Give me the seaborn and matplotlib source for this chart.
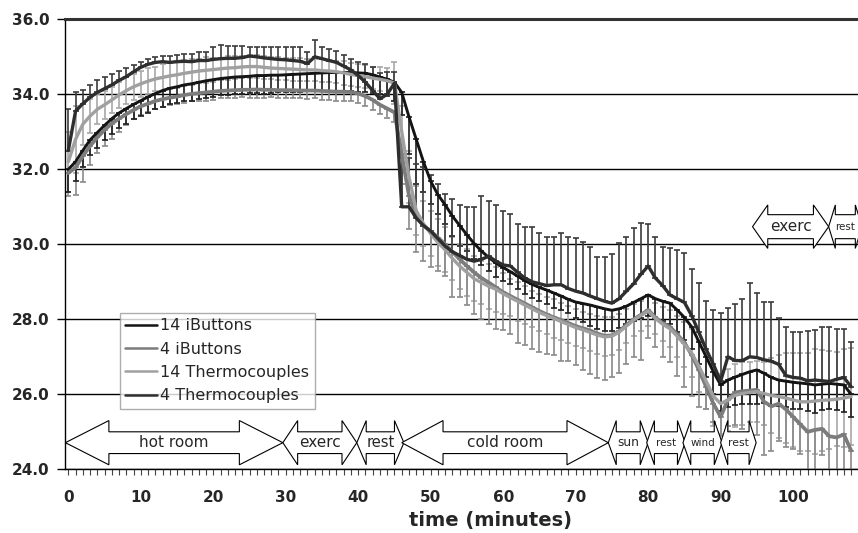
import numpy as np
import pandas as pd
import matplotlib
matplotlib.use("Agg")
import matplotlib.pyplot as plt
from matplotlib.patches import Polygon
import seaborn as sns

# --- data (one value per minute) ---
minutes = list(range(0, 109))

therm4 = [32.5, 33.55, 33.75, 33.92, 34.05, 34.15, 34.25, 34.37, 34.47, 34.6,
          34.72, 34.8, 34.85, 34.87, 34.85, 34.87, 34.88, 34.87, 34.9, 34.9,
          34.93, 34.95, 34.96, 34.96, 34.98, 35.02, 35.0, 34.97, 34.95, 34.93,
          34.92, 34.9, 34.88, 34.82, 35.0, 34.95, 34.9, 34.85, 34.75, 34.65,
          34.5, 34.32, 34.1, 33.88, 34.0, 34.3, 31.0, 31.0, 30.7, 30.5,
          30.35, 30.15, 29.95, 29.8, 29.7, 29.6, 29.55, 29.6, 29.68, 29.55,
          29.45, 29.42, 29.25, 29.1, 29.0, 28.95, 28.9, 28.92, 28.92, 28.82,
          28.75, 28.7, 28.62, 28.55, 28.48, 28.43, 28.55, 28.75, 28.95, 29.2,
          29.42, 29.1, 28.9, 28.65, 28.55, 28.45, 28.1, 27.65, 27.2, 26.8,
          26.35, 27.0, 26.9, 26.9, 27.0, 26.98, 26.92, 26.88, 26.8, 26.5,
          26.45, 26.43, 26.36, 26.38, 26.36, 26.34, 26.4, 26.45, 26.2]
therm4_err = [1.1, 0.5, 0.36, 0.33, 0.33, 0.3, 0.29, 0.25, 0.22, 0.18,
              0.15, 0.15, 0.15, 0.15, 0.17, 0.18, 0.2, 0.2, 0.22, 0.24,
              0.33, 0.36, 0.34, 0.33, 0.32, 0.25, 0.27, 0.3, 0.32, 0.33,
              0.35, 0.37, 0.38, 0.3, 0.45, 0.3, 0.32, 0.3, 0.3, 0.3,
              0.36, 0.5, 0.62, 0.7, 0.6, 0.3, 1.4, 1.3, 1.45, 1.55,
              1.5, 1.45, 1.4, 1.4, 1.35, 1.4, 1.45, 1.7, 1.47, 1.5,
              1.45, 1.38, 1.3, 1.35, 1.45, 1.35, 1.3, 1.28, 1.38, 1.38,
              1.43, 1.35, 1.32, 1.12, 1.17, 1.31, 1.48, 1.44, 1.48, 1.38,
              1.12, 1.09, 1.04, 1.25, 1.3, 1.31, 1.23, 1.31, 1.3, 1.45,
              1.83, 1.3, 1.5, 1.65, 1.96, 1.72, 1.55, 1.57, 1.23, 1.3,
              1.22, 1.24, 1.34, 1.33, 1.44, 1.46, 1.35, 1.28, 1.2]

ibut14 = [32.0, 32.2, 32.5, 32.78, 32.98, 33.17, 33.35, 33.5, 33.62, 33.73,
          33.83, 33.93, 34.02, 34.1, 34.16, 34.2, 34.25, 34.28, 34.32, 34.36,
          34.39, 34.42, 34.44, 34.46, 34.47, 34.48, 34.5, 34.5, 34.51, 34.51,
          34.52, 34.53, 34.54, 34.55, 34.56, 34.57, 34.58, 34.58, 34.58, 34.58,
          34.57, 34.56, 34.52, 34.46, 34.4, 34.32, 34.05, 33.4, 32.8, 32.2,
          31.68, 31.32, 31.05, 30.75, 30.5, 30.25, 30.02, 29.82, 29.65, 29.5,
          29.38, 29.27, 29.15, 29.03, 28.93, 28.85, 28.78, 28.7, 28.62, 28.53,
          28.46, 28.42, 28.38, 28.33, 28.28, 28.24, 28.28, 28.35, 28.45, 28.55,
          28.65, 28.55, 28.48, 28.43, 28.25, 28.05, 27.8, 27.4, 27.0, 26.6,
          26.25, 26.38, 26.46, 26.53, 26.6, 26.65, 26.56, 26.45, 26.38, 26.35,
          26.32, 26.3, 26.28, 26.25, 26.27, 26.29, 26.27, 26.25, 26.0]
ibut14_err = [0.6, 0.5, 0.45, 0.4, 0.4, 0.4, 0.4, 0.4, 0.4, 0.4,
              0.4, 0.42, 0.42, 0.43, 0.43, 0.44, 0.44, 0.45, 0.45, 0.45,
              0.45, 0.44, 0.46, 0.45, 0.47, 0.45, 0.46, 0.48, 0.47, 0.46,
              0.46, 0.47, 0.48, 0.46, 0.47, 0.48, 0.5, 0.5, 0.52, 0.5,
              0.5, 0.5, 0.48, 0.45, 0.45, 0.5, 0.6, 1.0, 1.2, 0.8,
              0.6, 0.5, 0.52, 0.52, 0.54, 0.44, 0.4, 0.37, 0.36, 0.36,
              0.35, 0.33, 0.34, 0.35, 0.36, 0.37, 0.38, 0.39, 0.38, 0.36,
              0.43, 0.5, 0.55, 0.6, 0.58, 0.55, 0.5, 0.48, 0.5, 0.52,
              0.55, 0.55, 0.52, 0.55, 0.58, 0.6, 0.6, 0.58, 0.55, 0.6,
              0.7, 0.72, 0.75, 0.8, 0.85, 0.9, 0.8, 0.75, 0.7, 0.68,
              0.7, 0.7, 0.72, 0.74, 0.7, 0.68, 0.7, 0.72, 0.6]

ibut4 = [31.9, 32.05, 32.35, 32.62, 32.85, 33.05, 33.22, 33.35, 33.47, 33.58,
         33.68, 33.75, 33.82, 33.87, 33.91, 33.94, 33.98, 34.01, 34.03, 34.05,
         34.07, 34.09, 34.1, 34.11, 34.12, 34.12, 34.13, 34.12, 34.12, 34.11,
         34.11, 34.11, 34.1, 34.1, 34.1, 34.09, 34.08, 34.07, 34.07, 34.06,
         34.02, 33.95, 33.85, 33.72, 33.62, 33.52, 32.4, 31.3, 30.75, 30.5,
         30.35, 30.18, 30.0, 29.8, 29.6, 29.42, 29.25, 29.1, 28.98, 28.85,
         28.72, 28.62, 28.52, 28.42, 28.32, 28.22, 28.13, 28.05, 27.98, 27.9,
         27.82, 27.76, 27.7, 27.62, 27.56, 27.57, 27.68, 27.85, 28.0, 28.12,
         28.25, 28.05, 27.9, 27.8, 27.6, 27.38, 27.05, 26.65, 26.2, 25.75,
         25.4, 25.85, 26.05, 26.08, 26.1, 26.12, 25.8, 25.68, 25.75, 25.6,
         25.4, 25.2, 25.0, 25.05, 25.08, 24.88, 24.85, 24.93, 24.5]
ibut4_err = [0.6, 0.74, 0.68, 0.5, 0.42, 0.43, 0.4, 0.35, 0.3, 0.25,
             0.22, 0.22, 0.21, 0.22, 0.2, 0.21, 0.22, 0.2, 0.21, 0.22,
             0.22, 0.2, 0.21, 0.22, 0.2, 0.21, 0.22, 0.21, 0.2, 0.21,
             0.22, 0.2, 0.21, 0.22, 0.21, 0.23, 0.22, 0.24, 0.25, 0.25,
             0.26, 0.25, 0.27, 0.25, 0.24, 0.25, 0.8, 0.9, 0.95, 0.95,
             0.95, 0.9, 0.85, 1.2, 1.0, 1.05, 1.1, 1.1, 1.1, 1.1,
             1.0, 1.0, 1.15, 1.1, 1.1, 1.1, 1.05, 1.0, 1.1, 1.0,
             1.05, 1.1, 1.15, 1.18, 1.17, 1.12, 1.1, 1.05, 1.0, 1.2,
             0.76, 0.8, 0.9, 0.95, 1.1, 1.18, 1.1, 1.0, 0.6, 0.5,
             0.5, 0.7, 0.87, 1.0, 1.1, 1.2, 1.42, 1.2, 1.0, 1.0,
             0.85, 0.8, 1.2, 1.3, 0.7, 1.2, 1.0, 1.2, 0.8]

therm14 = [32.2, 32.8, 33.2, 33.42, 33.6, 33.72, 33.85, 33.98, 34.1, 34.2,
           34.28, 34.35, 34.41, 34.45, 34.49, 34.52, 34.56, 34.59, 34.62, 34.64,
           34.66, 34.68, 34.7, 34.71, 34.73, 34.74, 34.74, 34.72, 34.7, 34.69,
           34.68, 34.67, 34.66, 34.65, 34.65, 34.63, 34.62, 34.6, 34.57, 34.53,
           34.5, 34.47, 34.43, 34.4, 34.36, 34.3, 33.0, 31.8, 30.9, 30.55,
           30.28, 30.05, 29.85, 29.62, 29.42, 29.25, 29.08, 28.98, 28.88, 28.8,
           28.68, 28.58, 28.48, 28.38, 28.28, 28.18, 28.1, 28.02, 27.94, 27.86,
           27.78, 27.72, 27.65, 27.58, 27.53, 27.55, 27.66, 27.82, 27.98, 28.1,
           28.22, 28.02, 27.87, 27.75, 27.55, 27.33, 27.1, 26.75, 26.35, 25.95,
           25.75, 25.85, 25.97, 26.02, 26.05, 26.07, 26.02, 25.97, 25.94, 25.9,
           25.85, 25.8, 25.8, 25.82, 25.84, 25.85, 25.87, 25.9, 25.94]
therm14_err = [0.8, 0.9, 0.55, 0.45, 0.4, 0.38, 0.35, 0.35, 0.35, 0.35,
               0.34, 0.35, 0.33, 0.35, 0.34, 0.36, 0.35, 0.34, 0.33, 0.35,
               0.32, 0.3, 0.31, 0.3, 0.29, 0.3, 0.31, 0.3, 0.29, 0.3,
               0.3, 0.31, 0.3, 0.29, 0.3, 0.31, 0.3, 0.3, 0.31, 0.3,
               0.3, 0.31, 0.3, 0.32, 0.35, 0.55, 0.7, 0.7, 0.65, 0.6,
               0.6, 0.62, 0.6, 0.58, 0.6, 0.62, 0.6, 0.58, 0.6, 0.6,
               0.55, 0.5, 0.52, 0.5, 0.48, 0.5, 0.5, 0.52, 0.5, 0.5,
               0.5, 0.48, 0.5, 0.5, 0.52, 0.5, 0.48, 0.45, 0.42, 0.4,
               0.4, 0.42, 0.45, 0.5, 0.55, 0.6, 0.65, 0.7, 0.75, 0.8,
               0.8, 0.82, 0.85, 0.85, 0.8, 0.82, 0.85, 1.0, 1.1, 1.2,
               1.25, 1.3, 1.3, 1.4, 1.35, 1.3, 1.25, 1.3, 1.3]

# phase arrows: label, start, end (minutes)
phase_labels = ["hot room", "exerc", "rest", "cold room", "sun", "rest", "wind", "rest"]
phase_start = [-0.4, 29.6, 39.8, 46.0, 74.5, 79.8, 84.8, 90.0]
phase_end = [29.6, 39.8, 46.3, 74.5, 80.0, 85.1, 90.2, 94.9]
phase_size = [11, 11, 10.5, 11, 8.7, 7.5, 7.5, 7.8]

late_labels = ["exerc", "rest"]
late_start = [94.4, 104.9]
late_end = [104.9, 109.5]
late_size = [11, 7.4]

sns.set_style("white")
plt.rcParams['font.family'] = ['DejaVu Sans']

fig = plt.figure(figsize=(8.58, 5.33), dpi=100)
ax = fig.add_axes([0.0758, 0.1195, 0.9242, 0.8443])

# --- error bars (behind the lines) ---
zero = np.zeros(len(minutes))
eb = dict(fmt='none', elinewidth=1.2, capsize=2.5, capthick=1.2, zorder=2)
ax.errorbar(minutes, therm14, yerr=therm14_err, ecolor='#a8a8a8', **eb)
ax.errorbar(minutes, ibut4, yerr=[ibut4_err, zero], ecolor='#8a8a8a', **eb)
ax.errorbar(minutes, ibut14, yerr=[ibut14_err, zero], ecolor='#1e1e1e', **eb)
ax.errorbar(minutes, therm4, yerr=[zero, therm4_err], ecolor='#3c3c3c', **eb)

# --- lines ---
df = pd.DataFrame({"minute": minutes,
                   "14 iButtons": ibut14,
                   "4 iButtons": ibut4,
                   "14 Thermocouples": therm14,
                   "4 Thermocouples": therm4})
series = [("14 iButtons", "#141414", 2.1),
          ("4 iButtons", "#7c7c7c", 2.7),
          ("14 Thermocouples", "#a0a0a0", 2.4),
          ("4 Thermocouples", "#2e2e2e", 2.4)]
for name, col, lw in series:
    sns.lineplot(data=df, x="minute", y=name, color=col, linewidth=lw,
                 label=name, ax=ax, zorder=3)

# --- phase arrows ---
def block_arrow(x0, x1, yc, half, shaft, label, size):
    head = 0.2 * (x1 - x0)
    pts = [(x0, yc), (x0 + head, yc + half), (x0 + head, yc + shaft),
           (x1 - head, yc + shaft), (x1 - head, yc + half), (x1, yc),
           (x1 - head, yc - half), (x1 - head, yc - shaft),
           (x0 + head, yc - shaft), (x0 + head, yc - half)]
    ax.add_patch(Polygon(pts, closed=True, facecolor='white', edgecolor='black',
                         linewidth=0.8, zorder=5))
    ax.text((x0 + x1) / 2, yc, label, ha='center', va='center',
            fontsize=size, zorder=6)

for lab, s, e, fs in zip(phase_labels, phase_start, phase_end, phase_size):
    block_arrow(s, e, 24.71, 0.59, 0.29, lab, fs)
for lab, s, e, fs in zip(late_labels, late_start, late_end, late_size):
    block_arrow(s, e, 30.47, 0.58, 0.32, lab, fs)

# --- axes ---
ax.set_xlim(-0.45, 108.95)
ax.set_ylim(24, 36)
ax.set_yticks(np.arange(24, 36.1, 2))
ax.set_yticklabels([f"{v:.1f}" for v in np.arange(24, 36.1, 2)],
                   fontsize=11, fontweight='bold')
ax.set_xticks(np.arange(0, 101, 10))
ax.set_xticklabels([str(v) for v in range(0, 101, 10)], fontsize=11, fontweight='bold')
ax.set_xticks(np.arange(0, 109, 1), minor=True)
ax.tick_params(axis='x', which='both', direction='out', length=4, width=0.8,
               color='#444444', pad=11, bottom=True)
ax.tick_params(axis='y', direction='out', length=6, width=1, color='black',
               pad=5, left=True)

ax.yaxis.grid(True, color='black', linewidth=1.0)
ax.xaxis.grid(False)
ax.set_axisbelow(True)
for side in ['left', 'bottom']:
    ax.spines[side].set_color('black')
    ax.spines[side].set_linewidth(1.0)
ax.spines['top'].set_color('#333333')
ax.spines['top'].set_linewidth(2.2)
ax.spines['right'].set_visible(False)

ax.set_ylabel("")
ax.set_xlabel("time (minutes)", fontsize=14, fontweight='bold')
ax.xaxis.set_label_coords(0.537, -0.093)

leg = ax.legend(loc='upper left', bbox_to_anchor=(0.069, 0.348), borderaxespad=0,
                fontsize=11.5, frameon=True, fancybox=False, edgecolor='#999999',
                handlelength=2.0, handletextpad=0.2, labelspacing=0.52,
                borderpad=0.35)
leg.get_frame().set_linewidth(1.0)
leg.set_zorder(7)
for h in leg.get_lines():
    h.set_linewidth(1.8)

plt.savefig("out.png", dpi=100)
